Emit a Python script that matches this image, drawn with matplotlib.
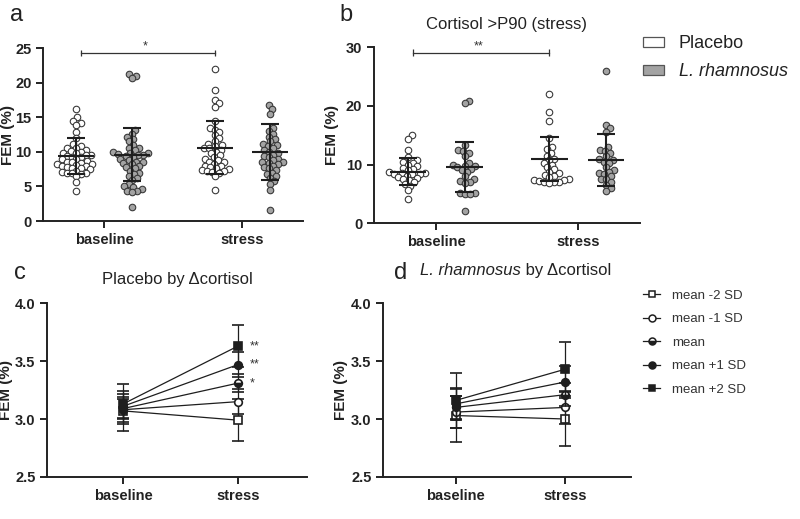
import matplotlib
matplotlib.use("Agg")
import matplotlib.pyplot as plt
import numpy as np
from matplotlib.lines import Line2D
from matplotlib.patches import Patch

plt.rcParams['font.family'] = ['Liberation Sans', 'DejaVu Sans']

# ---------------- data ----------------
categories = ['baseline', 'stress']

# panel a (all participants)
a_placebo_baseline = [16.2, 15.0, 14.5, 14.1, 13.9, 12.8, 12.0, 11.2, 10.9, 10.6, 10.5, 10.3, 10.1,
                      10.0, 9.9, 9.8, 9.6, 9.5, 9.4, 9.3, 9.2, 9.0, 8.9, 8.7, 8.6, 8.5, 8.4, 8.3,
                      8.2, 8.1, 8.0, 7.9, 7.8, 7.7, 7.6, 7.5, 7.3, 7.1, 7.0, 6.9, 6.9, 6.8, 6.5,
                      5.7, 4.3]
a_rham_baseline = [21.2, 21.0, 20.6, 13.2, 12.6, 12.2, 11.9, 11.5, 11.0, 10.6, 10.5, 10.2, 10.0,
                   9.9, 9.8, 9.7, 9.6, 9.5, 9.4, 9.2, 9.0, 8.8, 8.6, 8.5, 8.4, 8.2, 8.0, 7.8,
                   7.6, 7.3, 7.0, 6.8, 6.5, 6.2, 5.9, 5.3, 5.0, 4.9, 4.6, 4.4, 4.3, 4.2, 2.1]
a_placebo_stress = [22.0, 19.0, 17.5, 17.0, 16.5, 14.5, 13.5, 13.2, 12.8, 12.4, 12.0, 11.6, 11.2,
                    11.0, 10.8, 10.6, 10.5, 10.3, 10.0, 9.8, 9.5, 9.2, 9.0, 8.8, 8.6, 8.5, 8.3,
                    8.0, 7.9, 7.8, 7.6, 7.5, 7.4, 7.3, 7.2, 7.1, 7.0, 6.5, 4.5]
a_rham_stress = [16.8, 16.2, 15.5, 13.5, 13.0, 12.6, 12.2, 11.8, 11.5, 11.2, 11.0, 10.8, 10.5,
                 10.3, 10.0, 9.8, 9.6, 9.4, 9.2, 9.0, 8.8, 8.6, 8.5, 8.4, 8.2, 8.0, 7.8, 7.6,
                 7.4, 7.0, 6.8, 6.5, 6.2, 5.8, 5.3, 4.5, 1.6]
a_means = [9.4, 9.6, 10.6, 10.0]      # placebo-base, rham-base, placebo-stress, rham-stress
a_sds = [2.6, 3.8, 3.8, 4.0]

# panel b (cortisol > P90)
b_placebo_baseline = [15.0, 14.4, 12.4, 11.2, 10.8, 10.5, 10.2, 10.0, 9.7, 9.4, 9.2, 9.0, 8.8,
                      8.6, 8.5, 8.4, 8.4, 8.3, 8.1, 7.9, 7.7, 7.5, 7.3, 7.0, 6.7, 6.4, 5.6, 4.2]
b_rham_baseline = [20.9, 20.5, 13.3, 12.5, 12.3, 12.0, 11.5, 10.2, 10.0, 9.8, 9.7, 9.5, 9.2, 9.0,
                   8.8, 8.0, 7.6, 7.2, 7.0, 6.9, 5.2, 5.1, 5.0, 5.0, 2.0]
b_placebo_stress = [22.0, 19.0, 17.5, 14.5, 13.0, 12.6, 12.0, 11.5, 11.0, 10.7, 10.3, 10.0, 9.6,
                    9.2, 8.8, 8.5, 8.2, 8.0, 7.8, 7.6, 7.4, 7.3, 7.2, 7.1, 7.0, 7.0, 6.8]
b_rham_stress = [26.0, 16.8, 16.2, 15.6, 13.0, 12.5, 12.3, 12.0, 11.4, 11.0, 10.8, 10.5, 10.2,
                 9.5, 9.0, 8.8, 8.5, 8.3, 8.0, 7.6, 7.5, 7.0, 6.5, 6.0, 5.5]
b_means = [8.8, 9.6, 10.95, 10.8]
b_sds = [2.25, 4.25, 3.75, 4.4]

# panels c / d (moderation by delta cortisol)
levels = ['mean -2 SD', 'mean -1 SD', 'mean', 'mean +1 SD', 'mean +2 SD']
c_baseline = [3.07, 3.08, 3.09, 3.11, 3.13]
c_stress = [2.99, 3.15, 3.31, 3.47, 3.63]
c_err_baseline = [0.17, 0.11, 0.08, 0.11, 0.17]
c_err_stress = [0.18, 0.11, 0.08, 0.11, 0.18]
c_stars = ['', '', '*', '**', '**']
d_baseline = [3.03, 3.06, 3.10, 3.13, 3.16]
d_stress = [3.00, 3.10, 3.21, 3.32, 3.43]
d_err_baseline = [0.23, 0.14, 0.10, 0.14, 0.24]
d_err_stress = [0.235, 0.14, 0.10, 0.14, 0.235]

# ---------------- styling ----------------
EDGE = '#3a3a3a'
GRAY = '#a3a3a3'
DARK = '#1e1e1e'
OFF = 0.2

fig = plt.figure(figsize=(8, 5.19), dpi=100)


def style_axes(ax):
    for s in ['top', 'right']:
        ax.spines[s].set_visible(False)
    for s in ['left', 'bottom']:
        ax.spines[s].set_linewidth(1.4)
        ax.spines[s].set_color('#222222')
    ax.tick_params(axis='both', width=1.4, length=5, color='#222222', labelsize=10.5,
                   labelcolor='#222222')
    for lab in ax.get_xticklabels() + ax.get_yticklabels():
        lab.set_fontweight('bold')
    ax.set_ylabel('FEM (%)', fontsize=11, fontweight='bold', color='#222222')


def swarm_x(ax, xc, vals, diam):
    trans = ax.transData
    inv = trans.inverted()
    vals = np.asarray(vals, float)
    order = np.argsort(vals)
    cx = trans.transform((xc, 0))[0]
    placed = []
    xs = np.zeros(len(vals))
    for i in order:
        yp = trans.transform((xc, vals[i]))[1]
        best = 0.0
        for step in range(0, 400):
            found = False
            for sgn in ((1,) if step == 0 else (1, -1)):
                off = sgn * step * 0.5
                ok = True
                for px, py in placed:
                    if (cx + off - px) ** 2 + (yp - py) ** 2 < diam ** 2:
                        ok = False
                        break
                if ok:
                    best = off
                    found = True
                    break
            if found:
                break
        placed.append((cx + best, yp))
        xs[i] = inv.transform((cx + best, yp))[0]
    return xs


def scatter_panel(ax, groups, means, sds, ylim, yticks, bracket_y, stars):
    ax.set_xlim(-0.44, 1.44)
    ax.set_ylim(*ylim)
    ax.set_yticks(yticks)
    ax.set_xticks([0, 1])
    ax.set_xticklabels(categories)
    centers = [0 - OFF, 0 + OFF, 1 - OFF, 1 + OFF]
    faces = ['white', GRAY, 'white', GRAY]
    for g, xc, fc, m, sd in zip(groups, centers, faces, means, sds):
        xs = swarm_x(ax, xc, g, 5.0)
        ax.scatter(xs, g, s=22, facecolor=fc, edgecolor=EDGE, linewidth=0.8, zorder=2,
                   clip_on=False)
        ax.hlines(m, xc - 0.13, xc + 0.13, color=DARK, lw=1.5, zorder=3)
        ax.vlines(xc, m - sd, m + sd, color=DARK, lw=1.5, zorder=3)
        ax.hlines([m - sd, m + sd], xc - 0.065, xc + 0.065, color=DARK, lw=1.5, zorder=3)
    # significance bracket
    x0, x1 = -0.165, 0.80
    ax.plot([x0, x1], [bracket_y, bracket_y], color='#333333', lw=0.9, clip_on=False)
    h = (ylim[1] - ylim[0]) * 0.018
    ax.vlines([x0, x1], bracket_y - h, bracket_y + h, color='#333333', lw=0.9, clip_on=False)
    ax.text((x0 + x1) / 2 - 0.02, bracket_y, stars, ha='center', va='bottom', fontsize=9,
            color='#333333')
    style_axes(ax)


ax_a = fig.add_axes([0.054, 0.574, 0.325, 0.3335])
scatter_panel(ax_a, [a_placebo_baseline, a_rham_baseline, a_placebo_stress, a_rham_stress],
              a_means, a_sds, (0, 25), [0, 5, 10, 15, 20, 25], 24.3, '*')
ax_a.yaxis.set_label_coords(-0.11, 0.5)

ax_b = fig.add_axes([0.4675, 0.570, 0.3325, 0.339])
scatter_panel(ax_b, [b_placebo_baseline, b_rham_baseline, b_placebo_stress, b_rham_stress],
              b_means, b_sds, (0, 30), [0, 10, 20, 30], 29.1, '**')
ax_b.set_title('Cortisol >P90 (stress)', fontsize=12, color='#222222', pad=13)
ax_b.yaxis.set_label_coords(-0.13, 0.5)

markers = [dict(marker='s', mfc='white', fillstyle='full'),
           dict(marker='o', mfc='white', fillstyle='full'),
           dict(marker='o', mfc=DARK, fillstyle='bottom', markerfacecoloralt='white'),
           dict(marker='o', mfc=DARK, fillstyle='full'),
           dict(marker='s', mfc=DARK, fillstyle='full')]


def line_panel(ax, base, stress, eb, es, stars):
    ax.set_xlim(-0.66, 1.6)
    ax.set_ylim(2.5, 4.0)
    ax.set_yticks([2.5, 3.0, 3.5, 4.0])
    ax.set_yticklabels(['2.5', '3.0', '3.5', '4.0'])
    ax.set_xticks([0, 1])
    ax.set_xticklabels(categories)
    for i in range(len(base)):
        ax.errorbar([0, 1], [base[i], stress[i]], yerr=[eb[i], es[i]], color=DARK, lw=0.9,
                    elinewidth=0.9, capsize=4.5, capthick=0.9, markersize=5.5,
                    markeredgecolor=DARK, markeredgewidth=1.2, zorder=3 + i, **markers[i])
        if stars and stars[i]:
            ax.text(1.1, stress[i], stars[i], ha='left', va='center', fontsize=9,
                    color='#333333')
    style_axes(ax)


ax_c = fig.add_axes([0.059, 0.081, 0.325, 0.335])
line_panel(ax_c, c_baseline, c_stress, c_err_baseline, c_err_stress, c_stars)
ax_c.set_title('Placebo by \u0394cortisol', fontsize=12, color='#222222', pad=14)
ax_c.yaxis.set_label_coords(-0.13, 0.5)

ax_d = fig.add_axes([0.479, 0.081, 0.31, 0.335])
line_panel(ax_d, d_baseline, d_stress, d_err_baseline, d_err_stress, None)
ax_d.yaxis.set_label_coords(-0.14, 0.5)
t1 = fig.text(0.525, 0.47, 'L. rhamnosus', ha='left', va='baseline', fontsize=12,
              fontstyle='italic', color='#222222')
fig.canvas.draw()
ax_d.annotate(' by \u0394cortisol', xy=(1, 0), xycoords=t1, ha='left', va='bottom',
              fontsize=12, color='#222222', annotation_clip=False)

# panel letters
for lbl, x, y in [('a', 0.012, 0.972), ('b', 0.424, 0.972), ('c', 0.018, 0.474),
                  ('d', 0.492, 0.474)]:
    fig.text(x, y, lbl, fontsize=17, ha='left', va='center', color='#222222')

# top legend
h1 = [Patch(facecolor='white', edgecolor='#555555', lw=0.9),
      Patch(facecolor=GRAY, edgecolor='#555555', lw=0.9)]
leg1 = fig.legend(h1, ['Placebo', 'L. rhamnosus'], loc='upper left',
                  bbox_to_anchor=(0.783, 0.963), frameon=False, fontsize=13,
                  handlelength=1.2, handleheight=0.45, labelspacing=0.6, handletextpad=0.8)
leg1.get_texts()[1].set_fontstyle('italic')
for t in leg1.get_texts():
    t.set_color('#222222')

# bottom legend
h2 = [Line2D([0], [0], color=DARK, lw=0.9, markersize=5, markeredgecolor=DARK,
             markeredgewidth=1.1, **m) for m in markers]
leg2 = fig.legend(h2, levels, loc='upper left', bbox_to_anchor=(0.789, 0.465),
                  frameon=False, fontsize=9.5, handlelength=1.3, labelspacing=0.85,
                  handletextpad=0.9)
for t in leg2.get_texts():
    t.set_color('#333333')

fig.savefig('out.png', dpi=100)
